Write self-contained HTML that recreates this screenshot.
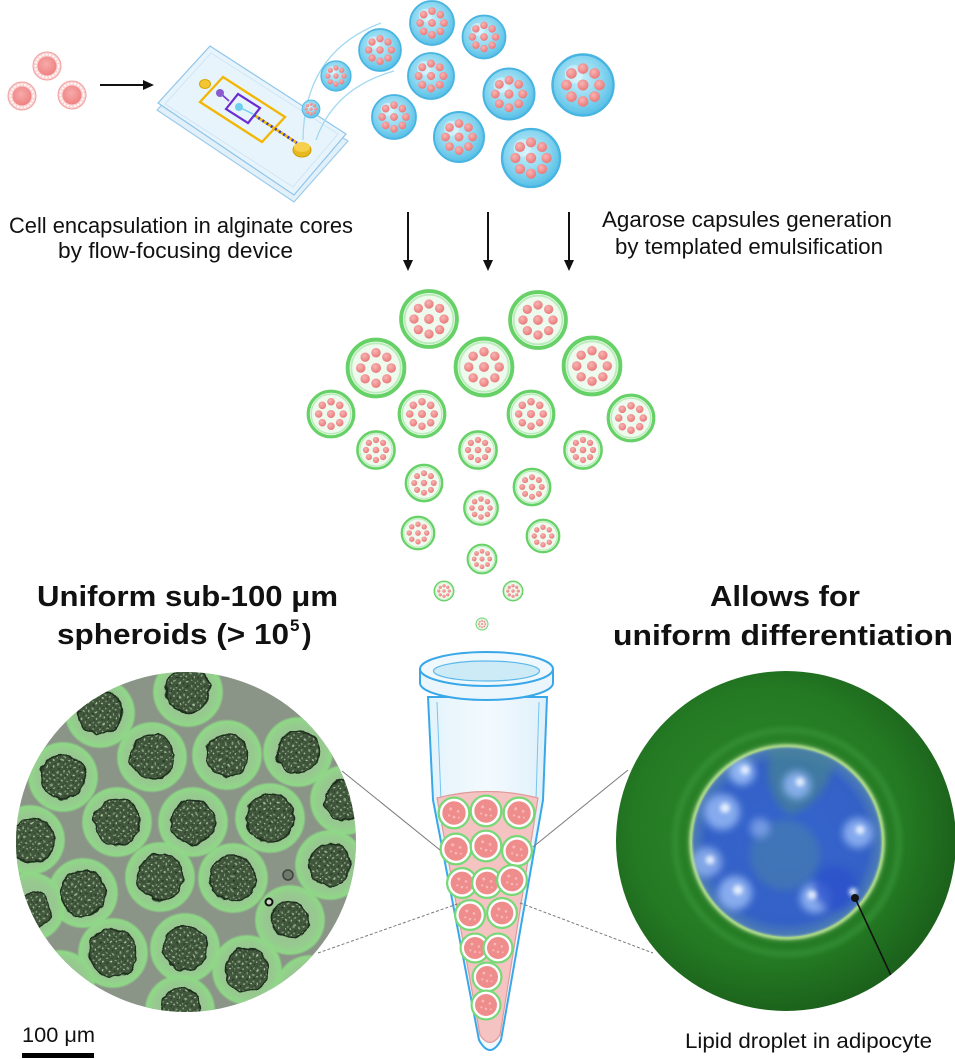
<!DOCTYPE html>
<html>
<head>
<meta charset="utf-8">
<style>
html,body{margin:0;padding:0;background:#fff;}
svg{display:block;}
text{font-family:"Liberation Sans",Arial,sans-serif;fill:#111;}
.b{font-weight:bold;}
</style>
</head>
<body>
<svg width="955" height="1059" viewBox="0 0 955 1059" xmlns="http://www.w3.org/2000/svg">
<defs>
  <radialGradient id="bcg" cx="0.45" cy="0.4" r="0.62">
    <stop offset="0" stop-color="#c8f0fb"/>
    <stop offset="0.6" stop-color="#88d5ef"/>
    <stop offset="1" stop-color="#52bde6"/>
  </radialGradient>
  <radialGradient id="cellg" cx="0.4" cy="0.35" r="0.7">
    <stop offset="0" stop-color="#f9b4b4"/>
    <stop offset="1" stop-color="#e87676"/>
  </radialGradient>
  <radialGradient id="pinkc" cx="0.45" cy="0.4" r="0.6">
    <stop offset="0" stop-color="#f7aaaa"/>
    <stop offset="1" stop-color="#ef8282"/>
  </radialGradient>
  <radialGradient id="halo" cx="0.5" cy="0.5" r="0.5">
    <stop offset="0" stop-color="#9dbd97"/>
    <stop offset="0.7" stop-color="#97c890"/>
    <stop offset="0.93" stop-color="#8fd887"/>
    <stop offset="1" stop-color="#8fd887" stop-opacity="0"/>
  </radialGradient>
  <radialGradient id="rgreen" cx="0.45" cy="0.45" r="0.55">
    <stop offset="0" stop-color="#2f8a2c"/>
    <stop offset="0.7" stop-color="#247a23"/>
    <stop offset="1" stop-color="#1b601b"/>
  </radialGradient>
  <radialGradient id="blueg" cx="0.5" cy="0.5" r="0.5">
    <stop offset="0" stop-color="#3565cf"/>
    <stop offset="0.85" stop-color="#3461c6"/>
    <stop offset="1" stop-color="#4f7fb4"/>
  </radialGradient>
  <linearGradient id="tubeg" x1="0" y1="0" x2="1" y2="0">
    <stop offset="0" stop-color="#e3f3fb"/>
    <stop offset="0.5" stop-color="#f3fafe"/>
    <stop offset="1" stop-color="#dff0fa"/>
  </linearGradient>
  <pattern id="sphp" width="7" height="7" patternUnits="userSpaceOnUse">
    <rect width="7" height="7" fill="#43583e"/>
    <circle cx="1.5" cy="1.5" r="1" fill="#829d7b"/>
    <circle cx="5" cy="4" r="0.9" fill="#adc4a5"/>
    <circle cx="2.5" cy="5.5" r="0.8" fill="#273624"/>
    <circle cx="5.5" cy="0.8" r="0.6" fill="#2b3a28"/>
  </pattern>
  <filter id="rough" x="-20%" y="-20%" width="140%" height="140%">
    <feTurbulence type="fractalNoise" baseFrequency="0.09" numOctaves="2" seed="3" result="n"/>
    <feDisplacementMap in="SourceGraphic" in2="n" scale="7" xChannelSelector="R" yChannelSelector="G"/>
  </filter>
  <filter id="blur4" x="-30%" y="-30%" width="160%" height="160%"><feGaussianBlur stdDeviation="4"/></filter>
  <filter id="blur2" x="-30%" y="-30%" width="160%" height="160%"><feGaussianBlur stdDeviation="2"/></filter>
  <filter id="blur1"><feGaussianBlur stdDeviation="1"/></filter>
  <clipPath id="clipL"><circle cx="186" cy="842" r="170"/></clipPath>
  <clipPath id="clipR"><circle cx="786" cy="841" r="170"/></clipPath>
  <clipPath id="clipB"><circle cx="787" cy="842" r="97"/></clipPath>

  <g id="bc">
    <circle r="10" fill="url(#bcg)" stroke="#47b4e1" stroke-width="0.8"/>
    <circle cx="-3" cy="-3.5" r="3" fill="#e6f9ff" opacity="0.5"/>
    <g fill="url(#cellg)">
      <circle r="1.8"/>
      <circle cx="5.4" cy="0" r="1.75"/>
      <circle cx="3.8" cy="3.8" r="1.75"/>
      <circle cx="0" cy="5.4" r="1.75"/>
      <circle cx="-3.8" cy="3.8" r="1.75"/>
      <circle cx="-5.4" cy="0" r="1.75"/>
      <circle cx="-3.8" cy="-3.8" r="1.75"/>
      <circle cx="0" cy="-5.4" r="1.75"/>
      <circle cx="3.8" cy="-3.8" r="1.75"/>
    </g>
  </g>
  <g id="gc">
    <circle r="9.3" fill="#eefaee" stroke="#66d166" stroke-width="1.3"/>
    <circle r="8.1" fill="none" stroke="#b8ecb8" stroke-width="0.6"/>
    <g fill="url(#cellg)">
      <circle r="1.65"/>
      <circle cx="5" cy="0" r="1.55"/>
      <circle cx="3.55" cy="3.55" r="1.55"/>
      <circle cx="0" cy="5" r="1.55"/>
      <circle cx="-3.55" cy="3.55" r="1.55"/>
      <circle cx="-5" cy="0" r="1.55"/>
      <circle cx="-3.55" cy="-3.55" r="1.55"/>
      <circle cx="0" cy="-5" r="1.55"/>
      <circle cx="3.55" cy="-3.55" r="1.55"/>
    </g>
  </g>
  <g id="tc">
    <circle r="9.3" fill="#ffffff" stroke="#78d878" stroke-width="1.4"/>
    <circle r="7.1" fill="#ef8d8d"/>
    <g fill="#f8b7b7">
      <circle cx="-2" cy="-2.5" r="0.9"/>
      <circle cx="2.5" cy="-1" r="0.8"/>
      <circle cx="0" cy="2.5" r="0.8"/>
      <circle cx="-3" cy="1.5" r="0.7"/>
      <circle cx="3" cy="2.8" r="0.6"/>
    </g>
  </g>
  <g id="pc">
    <circle r="14" fill="#fbd2d2" stroke="#f2a0a0" stroke-width="1"/>
    <circle r="11.5" fill="none" stroke="#ffffff" stroke-width="1.6" stroke-dasharray="2 1.5"/>
    <circle r="9.5" fill="url(#pinkc)"/>
  </g>
</defs>

<rect width="955" height="1059" fill="#ffffff"/>

<use href="#pc" transform="translate(47,66)"/>
<use href="#pc" transform="translate(22,96)"/>
<use href="#pc" transform="translate(72,95)"/>

<line x1="100" y1="85" x2="146" y2="85" stroke="#111" stroke-width="2"/>
<polygon points="154,85 143,80 143,90" fill="#111"/>

<polygon points="157,110 210,53 348,141 294,202" fill="#e2f0fa" stroke="#9ccbea" stroke-width="1.2"/>
<polygon points="158,103 210,46 346,134 294,195" fill="#e8f4fc" stroke="#8ec5ea" stroke-width="1.2"/>
<polygon points="165,104 211,53 338,134 293,187" fill="none" stroke="#cfe6f6" stroke-width="1"/>
<polygon points="200,102 223,77 285,117 262,142" fill="none" stroke="#f2b705" stroke-width="2.4"/>
<ellipse cx="205" cy="84" rx="5.5" ry="4.5" fill="#f3c530" stroke="#d6a600" stroke-width="1"/>
<line x1="220" y1="93" x2="229" y2="101" stroke="#7a3fd0" stroke-width="1.8"/>
<circle cx="220" cy="93" r="4" fill="#8a5cd0"/>
<polygon points="226,109 238,94 260,108 248,123" fill="none" stroke="#6a2bd0" stroke-width="2.2"/>
<circle cx="239" cy="107" r="4" fill="#6fd0ee"/>
<line x1="239" y1="107" x2="253" y2="114" stroke="#6fd0ee" stroke-width="1.5"/>
<line x1="254" y1="115" x2="297" y2="143" stroke="#f2b705" stroke-width="2.8"/>
<line x1="254" y1="115" x2="297" y2="143" stroke="#3b3bcf" stroke-width="2.8" stroke-dasharray="2 3"/>
<ellipse cx="302" cy="150" rx="9" ry="7" fill="#e8b820" stroke="#caa000" stroke-width="1"/>
<ellipse cx="302" cy="147" rx="8" ry="5" fill="#f6d04a"/>

<path d="M303,140 Q304,52 381,23" fill="none" stroke="#a2d8f0" stroke-width="1.3"/>
<path d="M316,140 Q334,88 394,71" fill="none" stroke="#a2d8f0" stroke-width="1.3"/>

<use href="#bc" transform="translate(311,109) scale(0.9)"/>
<use href="#bc" transform="translate(336,76) scale(1.5)"/>
<use href="#bc" transform="translate(380,50) scale(2.1)"/>
<use href="#bc" transform="translate(432,23) scale(2.2)"/>
<use href="#bc" transform="translate(484,37) scale(2.15)"/>
<use href="#bc" transform="translate(431,76) scale(2.3)"/>
<use href="#bc" transform="translate(394,117) scale(2.2)"/>
<use href="#bc" transform="translate(509,94) scale(2.55)"/>
<use href="#bc" transform="translate(459,137) scale(2.5)"/>
<use href="#bc" transform="translate(583,85) scale(3.05)"/>
<use href="#bc" transform="translate(531,158) scale(2.9)"/>

<text x="9" y="233" font-size="22" textLength="344" lengthAdjust="spacingAndGlyphs">Cell encapsulation in alginate cores</text>
<text x="58" y="258" font-size="22" textLength="235" lengthAdjust="spacingAndGlyphs">by flow-focusing device</text>
<text x="602" y="227" font-size="22" textLength="290" lengthAdjust="spacingAndGlyphs">Agarose capsules generation</text>
<text x="615" y="254" font-size="22" textLength="268" lengthAdjust="spacingAndGlyphs">by templated emulsification</text>

<g stroke="#111" stroke-width="2">
  <line x1="408" y1="212" x2="408" y2="262"/>
  <line x1="488" y1="212" x2="488" y2="262"/>
  <line x1="569" y1="212" x2="569" y2="262"/>
</g>
<g fill="#111">
  <polygon points="408,271 403,260 413,260"/>
  <polygon points="488,271 483,260 493,260"/>
  <polygon points="569,271 564,260 574,260"/>
</g>

<use href="#gc" transform="translate(429,319) scale(3.0)"/>
<use href="#gc" transform="translate(538,320) scale(3.0)"/>
<use href="#gc" transform="translate(376,368) scale(3.05)"/>
<use href="#gc" transform="translate(484,367) scale(3.05)"/>
<use href="#gc" transform="translate(592,366) scale(3.05)"/>
<use href="#gc" transform="translate(331,414) scale(2.45)"/>
<use href="#gc" transform="translate(422,414) scale(2.45)"/>
<use href="#gc" transform="translate(531,414) scale(2.45)"/>
<use href="#gc" transform="translate(631,418) scale(2.45)"/>
<use href="#gc" transform="translate(376,450) scale(2.0)"/>
<use href="#gc" transform="translate(478,450) scale(2.0)"/>
<use href="#gc" transform="translate(583,450) scale(2.0)"/>
<use href="#gc" transform="translate(424,483) scale(1.95)"/>
<use href="#gc" transform="translate(532,487) scale(1.95)"/>
<use href="#gc" transform="translate(481,508) scale(1.8)"/>
<use href="#gc" transform="translate(418,533) scale(1.75)"/>
<use href="#gc" transform="translate(543,536) scale(1.75)"/>
<use href="#gc" transform="translate(482,559) scale(1.55)"/>
<use href="#gc" transform="translate(444,591) scale(1.05)"/>
<use href="#gc" transform="translate(513,591) scale(1.05)"/>
<use href="#gc" transform="translate(482,624) scale(0.65)"/>

<text class="b" x="37" y="606" font-size="29" textLength="301" lengthAdjust="spacingAndGlyphs">Uniform sub-100 μm</text>
<text class="b" x="57" y="644" font-size="29" textLength="232" lengthAdjust="spacingAndGlyphs">spheroids (&gt; 10</text>
<text class="b" x="290" y="631" font-size="17">5</text>
<text class="b" x="302" y="644" font-size="29">)</text>
<text class="b" x="710" y="606" font-size="29" textLength="150" lengthAdjust="spacingAndGlyphs">Allows for</text>
<text class="b" x="613" y="645" font-size="29" textLength="340" lengthAdjust="spacingAndGlyphs">uniform differentiation</text>

<path d="M428,697 L433,800 L479,1040 Q490,1060 501,1040 L543,800 L547,697 Z" fill="url(#tubeg)" stroke="#3aa8e8" stroke-width="2"/>
<path d="M437,702 L441,800 L484,1030 Q490,1045 496,1030 L536,800 L539,702" fill="none" stroke="#78c4ee" stroke-width="1"/>
<path d="M437,798 Q487,785 538,798 L500,1035 Q490,1050 480,1035 Z" fill="#f6c3c3" stroke="#e09a9a" stroke-width="1.2"/>
<path d="M420,669 L420,683 A66.5,17 0 0 0 553,683 L553,669 Z" fill="#eaf6fc" stroke="#3aa8e8" stroke-width="2"/>
<ellipse cx="486.5" cy="669" rx="66.5" ry="17" fill="#eef8fd" stroke="#3aa8e8" stroke-width="2"/>
<ellipse cx="486.5" cy="671" rx="53" ry="10" fill="#cdeaf7" stroke="#5cb8ea" stroke-width="1.2"/>

<use href="#tc" transform="translate(454,813) scale(1.65)"/>
<use href="#tc" transform="translate(486,811) scale(1.65)"/>
<use href="#tc" transform="translate(519,813) scale(1.65)"/>
<use href="#tc" transform="translate(456,849) scale(1.65)"/>
<use href="#tc" transform="translate(486,846) scale(1.65)"/>
<use href="#tc" transform="translate(517,851) scale(1.6)"/>
<use href="#tc" transform="translate(462,883) scale(1.6)"/>
<use href="#tc" transform="translate(487,883) scale(1.6)"/>
<use href="#tc" transform="translate(512,880) scale(1.6)"/>
<use href="#tc" transform="translate(470,915) scale(1.6)"/>
<use href="#tc" transform="translate(502,913) scale(1.6)"/>
<use href="#tc" transform="translate(475,948) scale(1.55)"/>
<use href="#tc" transform="translate(498,948) scale(1.55)"/>
<use href="#tc" transform="translate(487,977) scale(1.55)"/>
<use href="#tc" transform="translate(486,1005) scale(1.55)"/>

<g stroke="#7a7a7a" stroke-width="1" fill="none">
  <line x1="342" y1="771" x2="440" y2="850"/>
  <line x1="318" y1="953" x2="460" y2="903" stroke-dasharray="3 2"/>
  <line x1="533" y1="847" x2="628" y2="770"/>
  <line x1="520" y1="903" x2="653" y2="953" stroke-dasharray="3 2"/>
</g>

<g clip-path="url(#clipL)">
  <rect x="10" y="665" width="355" height="355" fill="#8a9587"/>
  <g fill="url(#halo)">
    <circle cx="188" cy="692" r="36"/>
    <circle cx="100" cy="713" r="36"/>
    <circle cx="152" cy="757" r="36"/>
    <circle cx="227" cy="755" r="36"/>
    <circle cx="298" cy="752" r="36"/>
    <circle cx="63" cy="777" r="36"/>
    <circle cx="117" cy="822" r="36"/>
    <circle cx="193" cy="822" r="36"/>
    <circle cx="270" cy="818" r="36"/>
    <circle cx="345" cy="800" r="36"/>
    <circle cx="30" cy="840" r="36"/>
    <circle cx="160" cy="877" r="36"/>
    <circle cx="233" cy="878" r="36"/>
    <circle cx="330" cy="865" r="36"/>
    <circle cx="83" cy="893" r="36"/>
    <circle cx="290" cy="920" r="36"/>
    <circle cx="30" cy="907" r="36"/>
    <circle cx="113" cy="953" r="36"/>
    <circle cx="185" cy="948" r="36"/>
    <circle cx="247" cy="970" r="36"/>
    <circle cx="180" cy="1010" r="36"/>
    <circle cx="310" cy="990" r="36"/>
    <circle cx="60" cy="985" r="36"/>
  </g>
  <g fill="url(#sphp)" stroke="#1f2d1c" stroke-width="1.5" filter="url(#rough)">
    <circle cx="188" cy="690" r="22"/>
    <circle cx="100" cy="712" r="22"/>
    <circle cx="152" cy="757" r="22"/>
    <circle cx="227" cy="755" r="21"/>
    <circle cx="298" cy="752" r="21"/>
    <circle cx="63" cy="777" r="22"/>
    <circle cx="117" cy="822" r="23"/>
    <circle cx="193" cy="822" r="22"/>
    <circle cx="270" cy="818" r="24"/>
    <circle cx="345" cy="800" r="20"/>
    <circle cx="32" cy="840" r="22"/>
    <circle cx="160" cy="877" r="23"/>
    <circle cx="233" cy="878" r="23"/>
    <circle cx="330" cy="865" r="21"/>
    <circle cx="83" cy="893" r="23"/>
    <circle cx="290" cy="920" r="18"/>
    <circle cx="33" cy="910" r="18"/>
    <circle cx="113" cy="953" r="24"/>
    <circle cx="185" cy="948" r="22"/>
    <circle cx="247" cy="970" r="22"/>
    <circle cx="180" cy="1008" r="20"/>
  </g>
  <circle cx="288" cy="875" r="5" fill="#6f786d" stroke="#3b4639" stroke-width="1.5"/>
  <circle cx="269" cy="902" r="3.5" fill="#c8d4c4" stroke="#111" stroke-width="2"/>
</g>

<g clip-path="url(#clipR)">
  <rect x="612" y="668" width="350" height="350" fill="url(#rgreen)"/>
  <circle cx="787" cy="842" r="112" fill="none" stroke="#3e9a3c" stroke-width="7" opacity="0.5" filter="url(#blur2)"/>
  <circle cx="787" cy="842" r="98" fill="#8fc47c" filter="url(#blur2)"/>
  <circle cx="787" cy="842" r="95" fill="url(#blueg)"/>
  <g clip-path="url(#clipB)">
    <path d="M770,748 Q805,745 835,762 Q822,805 790,815 Q762,795 770,748 Z" fill="#4a8a8a" opacity="0.6" filter="url(#blur4)"/>
    <circle cx="785" cy="855" r="35" fill="#4f8aa0" opacity="0.45" filter="url(#blur4)"/>
    <g filter="url(#blur4)" opacity="0.85">
      <circle cx="742" cy="772" r="13" fill="#a0c2fb"/>
      <circle cx="797" cy="785" r="14" fill="#94b8f6"/>
      <circle cx="722" cy="812" r="18" fill="#95b8f5"/>
      <circle cx="858" cy="833" r="15" fill="#95b8f5"/>
      <circle cx="707" cy="862" r="15" fill="#8fb1ee"/>
      <circle cx="735" cy="893" r="17" fill="#98baf5"/>
      <circle cx="815" cy="898" r="15" fill="#98baf5"/>
      <circle cx="760" cy="828" r="10" fill="#7ea2e8"/>
      <circle cx="835" cy="888" r="22" fill="#2a50cc" opacity="0.8"/>
    </g>
    <g fill="#eef6ff" filter="url(#blur2)" opacity="0.9">
      <circle cx="745" cy="770" r="4.5"/>
      <circle cx="800" cy="782" r="4.5"/>
      <circle cx="725" cy="808" r="5"/>
      <circle cx="860" cy="830" r="4.5"/>
      <circle cx="710" cy="860" r="4.5"/>
      <circle cx="738" cy="890" r="5"/>
      <circle cx="812" cy="895" r="4.5"/>
      <circle cx="853" cy="892" r="4"/>
    </g>
  </g>
  <circle cx="787" cy="842" r="96" fill="none" stroke="#bfe696" stroke-width="3" opacity="0.75" filter="url(#blur1)"/>
  <circle cx="855" cy="898" r="4" fill="#151515"/>
  <line x1="855" y1="898" x2="908" y2="1012" stroke="#111" stroke-width="1.6"/>
</g>

<text x="22" y="1042" font-size="21" textLength="73" lengthAdjust="spacingAndGlyphs">100 μm</text>
<rect x="22" y="1053" width="72" height="5" fill="#000"/>
<text x="685" y="1048" font-size="21" textLength="247" lengthAdjust="spacingAndGlyphs">Lipid droplet in adipocyte</text>
</svg>
</body>
</html>
